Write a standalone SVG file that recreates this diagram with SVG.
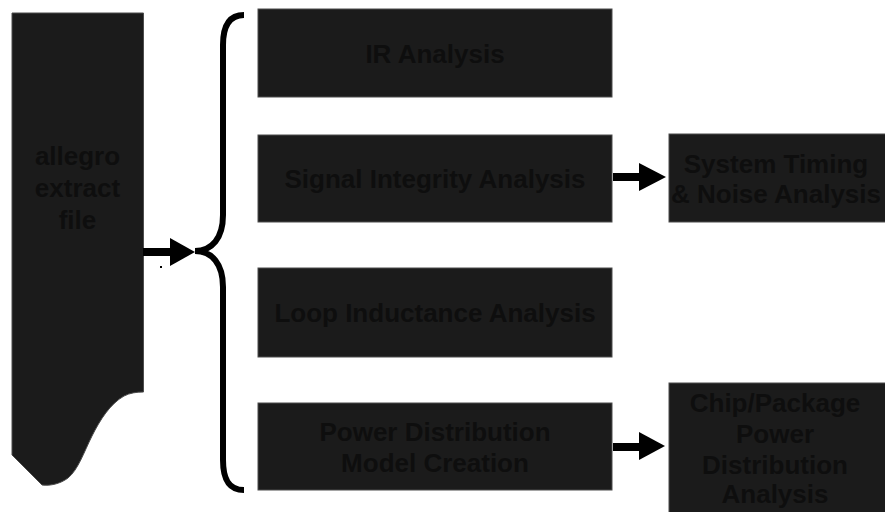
<svg xmlns="http://www.w3.org/2000/svg" width="885" height="512" viewBox="0 0 885 512">
<style>
.box{fill:#1b1b1b;stroke:#4d4d4d;stroke-width:1}
.t{font-family:"Liberation Sans",Arial,sans-serif;font-weight:bold;font-size:26px;fill:#0e0e0e;text-anchor:middle}
.ln{stroke:#000;stroke-width:8;fill:none}
.hd{fill:#000}
</style>
<rect width="885" height="512" fill="#fff"/>
<g id="allegro">
<path class="box" d="M12,13 H143.5 V392 C136,392 130,393 124,396 C110,404 100,420 92,436 C84,452 78,470 68,478 C60,484 50,486 42,485 L12,455 Z"/>
<text class="t" x="77.5" y="165">allegro</text>
<text class="t" x="77.5" y="197">extract</text>
<text class="t" x="77.5" y="229">file</text>
</g>
<g id="ir">
<rect class="box" x="258" y="9" width="354" height="88"/>
<text class="t" x="435" y="63">IR Analysis</text>
</g>
<g id="si">
<rect class="box" x="258" y="135" width="354" height="87"/>
<text class="t" x="435" y="188">Signal Integrity Analysis</text>
</g>
<g id="loop">
<rect class="box" x="258" y="268" width="354" height="89"/>
<text class="t" x="435" y="322">Loop Inductance Analysis</text>
</g>
<g id="pdm">
<rect class="box" x="258" y="403" width="354" height="87"/>
<text class="t" x="435" y="441">Power Distribution</text>
<text class="t" x="435" y="472">Model Creation</text>
</g>
<g id="timing">
<rect class="box" x="669" y="134" width="230" height="88"/>
<text class="t" x="776" y="173">System Timing</text>
<text class="t" x="776" y="203">&amp; Noise Analysis</text>
</g>
<g id="chip">
<rect class="box" x="669" y="383" width="230" height="140"/>
<text class="t" x="775" y="412">Chip/Package</text>
<text class="t" x="775" y="443">Power</text>
<text class="t" x="775" y="474">Distribution</text>
<text class="t" x="775" y="503">Analysis</text>
</g>
<g id="connectors">
<path d="M244,15 C228,15 223,28 223,45 V215 C223,238 212,251 195,251 C212,251 223,264 223,287 V460 C223,478 228,490 244,490" fill="none" stroke="#000" stroke-width="6"/>
<line class="ln" x1="143" y1="252" x2="171" y2="252"/>
<polygon class="hd" points="170,238 195,252 170,266"/>
<rect x="160" y="266" width="2" height="2" fill="#000"/>
<line class="ln" x1="613" y1="177" x2="640" y2="177"/>
<polygon class="hd" points="639,163 666,177 639,191"/>
<line class="ln" x1="613" y1="447" x2="640" y2="447"/>
<polygon class="hd" points="639,432 665,446 639,460"/>
</g>
</svg>
